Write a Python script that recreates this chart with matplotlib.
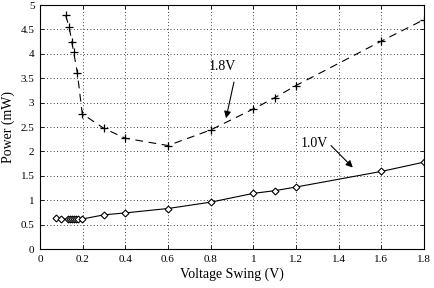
import matplotlib
matplotlib.use("Agg")
import matplotlib.pyplot as plt

# 1.8V supply series
x18 = [0.12, 0.137, 0.149, 0.158, 0.175, 0.198, 0.3, 0.4, 0.6, 0.8, 1.0, 1.1, 1.2, 1.6, 1.8]
p18 = [4.79, 4.54, 4.24, 4.03, 3.61, 2.77, 2.47, 2.27, 2.12, 2.44, 2.87, 3.10, 3.35, 4.26, 4.70]

# 1.0V supply series
x10 = [0.075, 0.098, 0.13, 0.14, 0.15, 0.16, 0.17, 0.18, 0.198, 0.3, 0.4, 0.6, 0.8, 1.0, 1.1, 1.2, 1.6, 1.8]
p10 = [0.64, 0.62, 0.61, 0.61, 0.61, 0.61, 0.61, 0.61, 0.615, 0.70, 0.74, 0.83, 0.96, 1.14, 1.195, 1.27, 1.59, 1.78]

xticks = [0, 0.2, 0.4, 0.6, 0.8, 1.0, 1.2, 1.4, 1.6, 1.8]
xticklabels = ["0", "0.2", "0.4", "0.6", "0.8", "1", "1.2", "1.4", "1.6", "1.8"]
yticks = [0, 0.5, 1, 1.5, 2, 2.5, 3, 3.5, 4, 4.5, 5]
yticklabels = ["0", "0.5", "1", "1.5", "2", "2.5", "3", "3.5", "4", "4.5", "5"]

plt.rcParams['font.family'] = ['Liberation Serif', 'DejaVu Serif']

fig = plt.figure(figsize=(4.34, 2.88), dpi=100)
ax = fig.add_axes([0.0922, 0.1354, 0.977 - 0.0922, 0.9826 - 0.1354])

ax.plot(x18, p18, color='black', linestyle=(0, (7, 5)), linewidth=0.8,
        marker='+', markersize=6, markeredgewidth=0.9)
ax.plot(x10, p10, color='black', linestyle='-', linewidth=0.8,
        marker='D', markersize=3.5, markerfacecolor='white', markeredgewidth=0.8)

ax.set_xlim(0, 1.8)
ax.set_ylim(0, 5)
ax.set_xticks(xticks)
ax.set_xticklabels(xticklabels)
ax.set_yticks(yticks)
ax.set_yticklabels(yticklabels)
ax.tick_params(direction='in', top=True, right=True, labelsize=8, length=3, width=0.6, pad=4)
ax.grid(True, color='black', linestyle=(0, (1, 3)), linewidth=0.6)
for s in ax.spines.values():
    s.set_linewidth(0.8)

ax.set_xlabel("Voltage Swing (V)", fontsize=10, labelpad=3)
ax.set_ylabel("Power (mW)", fontsize=10, labelpad=4)

arrow = dict(arrowstyle='-|>', color='black', lw=0.8, shrinkA=0, shrinkB=0, mutation_scale=10)
ax.text(0.853, 3.75, "1.8V", fontsize=10, ha='center', va='center')
ax.annotate("", xy=(0.872, 2.68), xytext=(0.909, 3.42), arrowprops=arrow)
ax.text(1.285, 2.17, "1.0V", fontsize=10, ha='center', va='center')
ax.annotate("", xy=(1.466, 1.67), xytext=(1.364, 2.12), arrowprops=arrow)

fig.savefig("out.png", dpi=100)
